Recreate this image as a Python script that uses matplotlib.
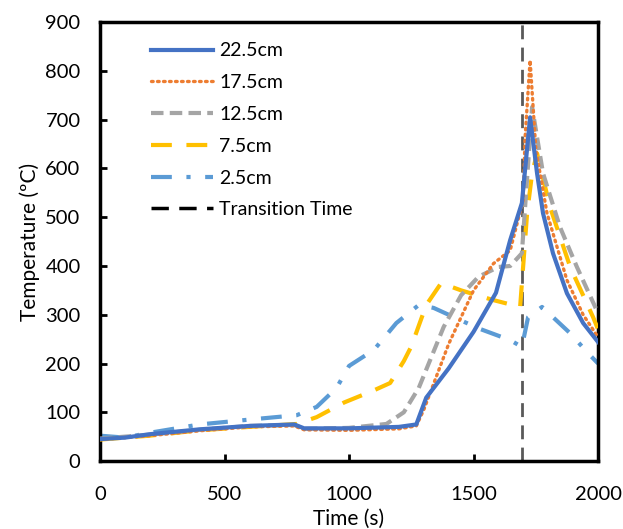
import matplotlib
matplotlib.use("Agg")
import matplotlib.pyplot as plt
from matplotlib.lines import Line2D

plt.rcParams['font.family'] = ['Lato', 'DejaVu Sans']

# ---- data ----
t_225 = [0, 100, 200, 400, 600, 780, 820, 1000, 1200, 1270, 1310, 1400, 1500, 1590, 1647, 1694, 1727, 1755, 1779, 1819, 1875, 1940, 2000]
T_225 = [45, 48, 55, 65, 72, 75, 67, 67, 70, 75, 130, 190, 265, 345, 453, 529, 705, 590, 508, 426, 344, 283, 244]

t_175 = [0, 200, 400, 600, 780, 820, 1000, 1200, 1270, 1300, 1400, 1500, 1580, 1647, 1699, 1707, 1727, 1750, 1795, 1875, 1940, 2000]
T_175 = [44, 52, 62, 70, 72, 64, 63, 66, 72, 105, 240, 350, 405, 432, 535, 664, 822, 640, 508, 371, 300, 254]

t_125 = [0, 200, 400, 600, 780, 820, 1000, 1150, 1220, 1280, 1380, 1450, 1520, 1600, 1647, 1694, 1735, 1779, 1847, 1915, 2000]
T_125 = [46, 54, 64, 72, 74, 66, 68, 76, 100, 150, 275, 340, 378, 398, 400, 426, 726, 590, 480, 398, 303]

t_75 = [0, 200, 400, 600, 790, 870, 980, 1100, 1165, 1220, 1250, 1310, 1370, 1450, 1580, 1687, 1715, 1735, 1755, 1807, 1888, 1980, 2000]
T_75 = [44, 52, 63, 70, 76, 90, 120, 145, 160, 205, 235, 320, 365, 350, 330, 316, 508, 590, 631, 521, 398, 295, 270]

t_25 = [0, 50, 100, 200, 400, 600, 790, 870, 950, 1000, 1100, 1190, 1280, 1340, 1400, 1520, 1647, 1694, 1719, 1775, 1888, 1960, 2000]
T_25 = [52, 50, 48, 58, 75, 85, 94, 111, 150, 195, 228, 283, 320, 314, 300, 272, 248, 234, 295, 316, 262, 221, 200]

transition_time = 1695

x_ticks = [0, 500, 1000, 1500, 2000]
y_ticks = [0, 100, 200, 300, 400, 500, 600, 700, 800, 900]

# ---- plot ----
fig = plt.figure(figsize=(6.23, 5.29), dpi=100)
ax = fig.add_axes([0.1605, 0.1285, 0.7995, 0.8295])

ax.axvline(transition_time, color='#595959', lw=2, dashes=(5, 3), zorder=1)
l1, = ax.plot(t_225, T_225, color='#4472C4', lw=3, label='22.5cm', zorder=6)
l2, = ax.plot(t_175, T_175, color='#ED7D31', lw=2.4, linestyle=(0, (0.5, 1.3)), dash_capstyle='round', label='17.5cm', zorder=5)
l3, = ax.plot(t_125, T_125, color='#A5A5A5', lw=3, dashes=(3, 1.5), label='12.5cm', zorder=4)
l4, = ax.plot(t_75, T_75, color='#FFC000', lw=3, dashes=(5, 3.5), label='7.5cm', zorder=3)
l5, = ax.plot(t_25, T_25, color='#5B9BD5', lw=3, dashes=(5, 3.5, 1, 3.5), label='2.5cm', zorder=2)
proxy = Line2D([], [], color='black', lw=2.5, dashes=(5, 3))

leg = ax.legend([l1, l2, l3, l4, l5, proxy],
                ['22.5cm', '17.5cm', '12.5cm', '7.5cm', '2.5cm', 'Transition Time'],
                loc='upper left', bbox_to_anchor=(0.075, 0.985), frameon=False,
                fontsize=14, handlelength=3.2, handletextpad=0.3, labelspacing=0.76,
                borderpad=0.2)

ax.set_xlim(0, 2000)
ax.set_ylim(0, 900)
ax.set_xticks(x_ticks)
ax.set_yticks(y_ticks)
ax.tick_params(direction='in', length=5, width=2, labelsize=14.5)
ax.tick_params(axis='y', pad=14)
ax.tick_params(axis='x', pad=18)
for s in ax.spines.values():
    s.set_linewidth(2.5)
ax.set_xlabel('Time (s)', fontsize=15, labelpad=4)
ax.set_ylabel('Temperature (ºC)', fontsize=15, labelpad=4)

fig.savefig('out.png', dpi=100)
